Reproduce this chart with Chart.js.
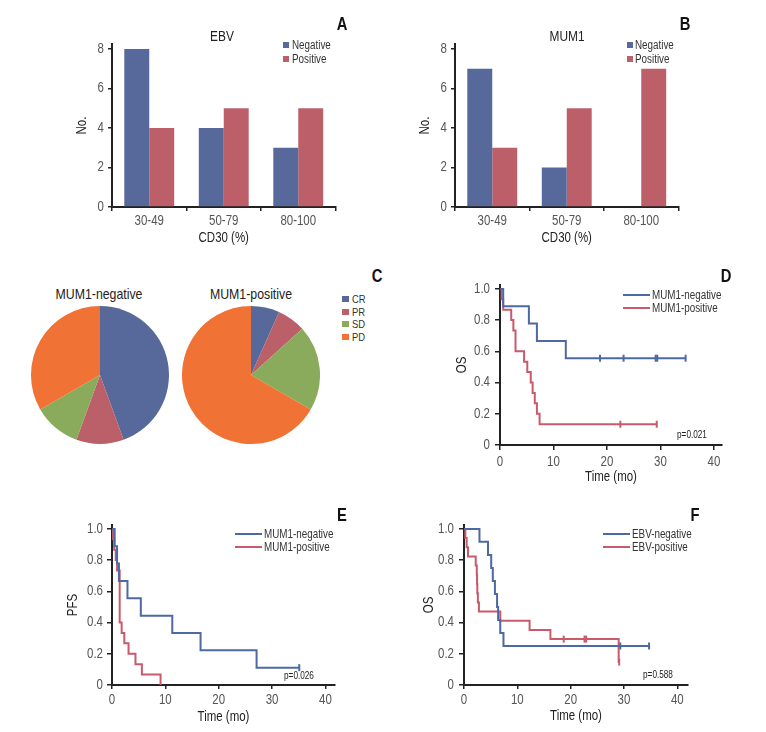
<!DOCTYPE html>
<html>
<head>
<meta charset="utf-8">
<script src="https://cdn.jsdelivr.net/npm/chart.js@4.4.1/dist/chart.umd.min.js"></script>
<style>
  body { margin: 0; background: #fff; width: 766px; height: 732px; position: relative; overflow: hidden;
         font-family: "Liberation Sans", Arial, sans-serif; }
  canvas { position: absolute; }
  /* the original uses a condensed Helvetica; squeeze Liberation Sans to match */
  .t { position: absolute; white-space: nowrap; transform: translate(-50%, -50%) scaleX(0.82); color: #222; }
  .l { position: absolute; white-space: nowrap; transform-origin: left center; transform: translateY(-50%) scaleX(0.82);
       color: #333; font-size: 12px; }
  .sq { position: absolute; width: 6px; height: 6px; }
  .ln { position: absolute; height: 2px; width: 27px; }
  .letter { font-weight: bold; font-size: 18px; color: #111; }
</style>
</head>
<body>

<canvas id="chartA" width="300" height="250" style="left:60px;top:0px"></canvas>
<canvas id="chartB" width="300" height="250" style="left:400px;top:0px"></canvas>
<canvas id="pieNeg" width="138" height="138" style="left:31px;top:306px"></canvas>
<canvas id="piePos" width="138" height="138" style="left:182px;top:306px"></canvas>
<canvas id="chartD" width="320" height="230" style="left:420px;top:265px"></canvas>
<canvas id="chartE" width="300" height="225" style="left:60px;top:505px"></canvas>
<canvas id="chartF" width="300" height="225" style="left:410px;top:505px"></canvas>

<!-- panel letters -->
<div class="t letter" style="left:342px;top:24px">A</div>
<div class="t letter" style="left:685px;top:24px">B</div>
<div class="t letter" style="left:377px;top:276px">C</div>
<div class="t letter" style="left:726px;top:276px">D</div>
<div class="t letter" style="left:342px;top:515px">E</div>
<div class="t letter" style="left:695px;top:515px">F</div>

<!-- A / B titles + legends -->
<div class="t" style="left:222px;top:36px;font-size:14.5px">EBV</div>
<div class="sq" style="left:283px;top:42px;background:#56699a"></div>
<div class="l" style="left:292px;top:45px">Negative</div>
<div class="sq" style="left:283px;top:56px;background:#bd5f69"></div>
<div class="l" style="left:292px;top:59px">Positive</div>

<div class="t" style="left:567px;top:36px;font-size:14.5px">MUM1</div>
<div class="sq" style="left:627px;top:42px;background:#56699a"></div>
<div class="l" style="left:635px;top:45px">Negative</div>
<div class="sq" style="left:627px;top:56px;background:#bd5f69"></div>
<div class="l" style="left:635px;top:59px">Positive</div>

<!-- C titles + legend -->
<div class="t" style="left:99px;top:293px;font-size:15px">MUM1-negative</div>
<div class="t" style="left:251px;top:293px;font-size:15px">MUM1-positive</div>
<div class="sq" style="left:342px;top:296px;width:7px;height:6px;background:#56699a"></div>
<div class="l" style="left:352px;top:299px;font-size:11.5px">CR</div>
<div class="sq" style="left:342px;top:309px;width:7px;height:6px;background:#bb5f68"></div>
<div class="l" style="left:352px;top:312px;font-size:11.5px">PR</div>
<div class="sq" style="left:342px;top:321px;width:7px;height:6px;background:#8aaa5c"></div>
<div class="l" style="left:352px;top:324px;font-size:11.5px">SD</div>
<div class="sq" style="left:342px;top:334px;width:7px;height:6px;background:#f07234"></div>
<div class="l" style="left:352px;top:337px;font-size:11.5px">PD</div>

<!-- D legend -->
<div class="ln" style="left:623px;top:294px;background:#4d69a3"></div>
<div class="l" style="left:652px;top:295px">MUM1-negative</div>
<div class="ln" style="left:623px;top:307px;background:#c95a6b"></div>
<div class="l" style="left:652px;top:308px">MUM1-positive</div>
<div class="t" style="left:692px;top:434px;font-size:10px">p=0.021</div>

<!-- E legend -->
<div class="ln" style="left:235px;top:533px;background:#4d69a3"></div>
<div class="l" style="left:264px;top:534px">MUM1-negative</div>
<div class="ln" style="left:235px;top:546px;background:#c95a6b"></div>
<div class="l" style="left:264px;top:547px">MUM1-positive</div>
<div class="t" style="left:299px;top:675px;font-size:10px">p=0.026</div>

<!-- F legend -->
<div class="ln" style="left:603px;top:533px;background:#4d69a3"></div>
<div class="l" style="left:632px;top:534px">EBV-negative</div>
<div class="ln" style="left:603px;top:546px;background:#c95a6b"></div>
<div class="l" style="left:632px;top:547px">EBV-positive</div>
<div class="t" style="left:658px;top:674px;font-size:10px">p=0.588</div>

<script>
// ===== data =====
const CD30_GROUPS   = ['30-49', '50-79', '80-100'];
const EBV_NEGATIVE  = [8, 4, 3];
const EBV_POSITIVE  = [4, 5, 5];
const MUM1_NEGATIVE = [7, 2, 0];
const MUM1_POSITIVE = [3, 5, 7];
const BAR_Y_TICKS   = [0, 2, 4, 6, 8];

const RESPONSES     = ['CR', 'PR', 'SD', 'PD'];
const RESP_MUM1_NEG = [4, 1, 1, 3];
const RESP_MUM1_POS = [1, 1, 3, 10];

const SURV_Y_TICKS = [0, 0.2, 0.4, 0.6, 0.8, 1.0];
const TIME_TICKS   = [0, 10, 20, 30, 40];

// D: OS by MUM1  (t = step times, s = survival after the step, ct/cs = censor marks)
const D_NEG_T  = [0, 0.6, 5.4, 6.9, 12.3, 34.7];
const D_NEG_S  = [1, 0.889, 0.778, 0.667, 0.556, 0.556];
const D_NEG_CT = [18.7, 23.1, 29.1, 29.4, 34.7];
const D_NEG_CS = [0.556, 0.556, 0.556, 0.556, 0.556];
const D_POS_T  = [0, 0.3, 0.6, 2.1, 2.5, 2.9, 4.5, 5.1, 5.75, 6.1, 6.5, 6.9, 7.4, 29.3];
const D_POS_S  = [1, 0.933, 0.867, 0.8, 0.733, 0.6, 0.533, 0.467, 0.4, 0.333, 0.267, 0.2, 0.133, 0.133];
const D_POS_CT = [22.5, 29.3];
const D_POS_CS = [0.133, 0.133];

// E: PFS by MUM1
const E_NEG_T  = [0, 0.5, 0.95, 1.3, 2.9, 5.4, 11.3, 16.6, 27.1, 35.1];
const E_NEG_S  = [1, 0.889, 0.778, 0.667, 0.556, 0.444, 0.333, 0.222, 0.111, 0.111];
const E_NEG_CT = [35.1];
const E_NEG_CS = [0.111];
const E_POS_T  = [0, 0.2, 0.4, 0.7, 0.95, 1.44, 1.81, 2.31, 3.1, 4.4, 5.6, 9.1];
const E_POS_S  = [1, 0.933, 0.867, 0.8, 0.733, 0.4, 0.333, 0.267, 0.2, 0.133, 0.067, 0];
const E_POS_CT = [];
const E_POS_CS = [];

// F: OS by EBV
const F_NEG_T  = [0, 2.9, 4.5, 5.1, 5.4, 5.8, 6.2, 6.4, 6.8, 7.4, 34.7];
const F_NEG_S  = [1, 0.917, 0.833, 0.75, 0.667, 0.583, 0.5, 0.417, 0.333, 0.25, 0.25];
const F_NEG_CT = [29.3, 34.7];
const F_NEG_CS = [0.25, 0.25];
const F_POS_T  = [0, 0.25, 0.5, 0.75, 2.2, 2.4, 2.45, 2.5, 2.6, 2.8, 6.8, 12.3, 16.2, 29.0, 29.1];
const F_POS_S  = [1, 0.941, 0.882, 0.824, 0.765, 0.706, 0.647, 0.588, 0.529, 0.471, 0.412, 0.353, 0.294, 0.147, 0.147];
const F_POS_CT = [18.7, 22.6, 22.9, 29.1];
const F_POS_CS = [0.294, 0.294, 0.294, 0.147];

// ===== styles =====
const FONT_FAMILY = '"Liberation Sans", Arial, sans-serif';
const CONDENSE = 0.82;
const BAR_BLUE = '#56699a';
const BAR_RED  = '#bd5f69';
const PIE_COLORS = ['#56699a', '#bb5f68', '#8aaa5c', '#f07234'];
const KM_BLUE = '#4d69a3';
const KM_RED  = '#c95a6b';
const AXIS = '#222';
const TICK_COLOR = '#555';

Chart.defaults.font.family = FONT_FAMILY;
Chart.defaults.animation = false;

// squeeze canvas text horizontally (fillText maxWidth) to mimic a condensed face
const condensedText = {
  id: 'condensedText',
  beforeInit(chart) {
    const ctx = chart.ctx;
    const orig = ctx.fillText;
    ctx.fillText = function (txt, x, y, maxW) {
      const w = this.measureText(txt).width * CONDENSE;
      return orig.call(this, txt, x, y, maxW === undefined ? w : Math.min(maxW, w));
    };
  }
};
Chart.register(condensedText);

const fixW = w => s => { s.width = w; };
const fixH = h => s => { s.height = h; };
const setTicks = vals => s => { s.ticks = vals.map(v => ({ value: v })); };

function barChart(id, neg, pos, box) {
  new Chart(document.getElementById(id), {
    type: 'bar',
    data: {
      labels: CD30_GROUPS,
      datasets: [
        { label: 'Negative', data: neg, backgroundColor: BAR_BLUE, borderWidth: 0 },
        { label: 'Positive', data: pos, backgroundColor: BAR_RED, borderWidth: 0 }
      ]
    },
    options: {
      responsive: false,
      layout: { padding: { top: box.top, right: box.right, left: 0, bottom: 0 } },
      plugins: { legend: { display: false }, tooltip: { enabled: false } },
      datasets: { bar: { categoryPercentage: 0.67, barPercentage: 1 } },
      scales: {
        x: {
          grid: { drawOnChartArea: false, tickLength: 4, color: AXIS, lineWidth: 1.5 },
          border: { color: AXIS, width: 2 },
          ticks: { font: { size: 14 }, color: TICK_COLOR, padding: 2 },
          title: { display: true, text: 'CD30 (%)', font: { size: 14 }, color: '#222', padding: { top: 0, bottom: 3.6 } },
          afterFit: fixH(box.h)
        },
        y: {
          min: 0, max: 8.25,
          afterBuildTicks: setTicks(BAR_Y_TICKS),
          grid: { drawOnChartArea: false, tickLength: 4, color: AXIS, lineWidth: 1.5 },
          border: { color: AXIS, width: 2 },
          ticks: { font: { size: 14 }, color: TICK_COLOR, padding: 4 },
          title: { display: true, text: 'No.', font: { size: 14 }, color: '#222', padding: { top: box.ytitle, bottom: 0 } },
          afterFit: fixW(box.w)
        }
      }
    }
  });
}

function pieChart(id, values) {
  new Chart(document.getElementById(id), {
    type: 'pie',
    data: { labels: RESPONSES, datasets: [{ data: values, backgroundColor: PIE_COLORS, borderWidth: 0 }] },
    options: {
      responsive: false,
      plugins: { legend: { display: false }, tooltip: { enabled: false } }
    }
  });
}

function kmChart(id, yLabel, curves, box) {
  const datasets = [];
  curves.forEach(c => {
    datasets.push({
      data: c.t.map((t, i) => ({ x: t, y: c.s[i] })),
      borderColor: c.color, borderWidth: 2, stepped: true,
      pointRadius: 0, fill: false, clip: 4
    });
    datasets.push({
      data: c.ct.map((t, i) => ({ x: t, y: c.cs[i] })),
      showLine: false, pointStyle: 'line', rotation: 90, pointRadius: 3.5,
      borderColor: c.color, pointBorderWidth: 2, clip: 6
    });
  });
  new Chart(document.getElementById(id), {
    type: 'line',
    data: { datasets },
    options: {
      responsive: false,
      layout: { padding: { top: box.top, right: box.right, left: 0, bottom: 0 } },
      plugins: { legend: { display: false }, tooltip: { enabled: false } },
      scales: {
        x: {
          type: 'linear', min: 0, max: box.xmax,
          afterBuildTicks: setTicks(TIME_TICKS),
          grid: { drawOnChartArea: false, tickLength: box.xtl, color: AXIS, lineWidth: 1.5 },
          border: { color: AXIS, width: 2 },
          ticks: { font: { size: 14 }, color: TICK_COLOR, padding: box.xpad },
          title: { display: true, text: 'Time (mo)', font: { size: 14 }, color: '#222', padding: { top: 0, bottom: box.xtitle } },
          afterFit: fixH(box.h)
        },
        y: {
          min: 0, max: 1.025,
          afterBuildTicks: setTicks(SURV_Y_TICKS),
          grid: { drawOnChartArea: false, tickLength: 5, color: AXIS, lineWidth: 1.5 },
          border: { color: AXIS, width: 2 },
          ticks: { font: { size: 14 }, color: TICK_COLOR, padding: box.ypad,
                   callback: v => (v === 0 ? '0' : v.toFixed(1)) },
          title: { display: true, text: yLabel, font: { size: 14 }, color: '#222', padding: { top: box.ytitle, bottom: 0 } },
          afterFit: fixW(box.w)
        }
      }
    }
  });
}

barChart('chartA', EBV_NEGATIVE, EBV_POSITIVE, { top: 44, right: 24.5, w: 52, h: 43, ytitle: 13.3 });
barChart('chartB', MUM1_NEGATIVE, MUM1_POSITIVE, { top: 44, right: 21.5, w: 55, h: 43, ytitle: 16.6 });

pieChart('pieNeg', RESP_MUM1_NEG);
pieChart('piePos', RESP_MUM1_POS);

kmChart('chartD', 'OS', [
  { t: D_NEG_T, s: D_NEG_S, ct: D_NEG_CT, cs: D_NEG_CS, color: KM_BLUE },
  { t: D_POS_T, s: D_POS_S, ct: D_POS_CT, cs: D_POS_CS, color: KM_RED }
], { top: 20, right: 18, w: 80, h: 50, xmax: 41.5, xtl: 5, xpad: 3.5, xtitle: 9.6, ypad: 5, ytitle: 33.6 });

kmChart('chartE', 'PFS', [
  { t: E_NEG_T, s: E_NEG_S, ct: E_NEG_CT, cs: E_NEG_CS, color: KM_BLUE },
  { t: E_POS_T, s: E_POS_S, ct: E_POS_CT, cs: E_POS_CS, color: KM_RED }
], { top: 20, right: 25, w: 52, h: 45, xmax: 41.8, xtl: 4, xpad: 3, xtitle: 4.6, ypad: 4, ytitle: 4.9 });

kmChart('chartF', 'OS', [
  { t: F_NEG_T, s: F_NEG_S, ct: F_NEG_CT, cs: F_NEG_CS, color: KM_BLUE },
  { t: F_POS_T, s: F_POS_S, ct: F_POS_CT, cs: F_POS_CS, color: KM_RED }
], { top: 20, right: 22, w: 54, h: 45, xmax: 42, xtl: 4, xpad: 3, xtitle: 5.6, ypad: 5, ytitle: 10.9 });
</script>
</body>
</html>
